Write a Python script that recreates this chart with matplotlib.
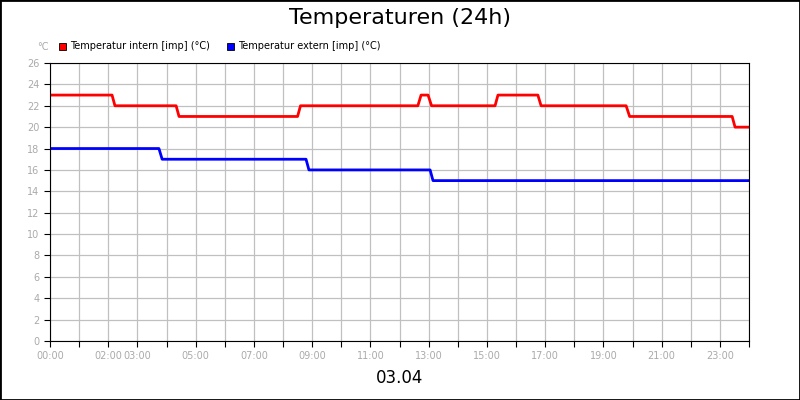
import matplotlib
matplotlib.use("Agg")
import matplotlib.pyplot as plt
from matplotlib.patches import Rectangle

# hours, values
red_x = [0, 2.13, 2.23, 4.33, 4.43, 8.5, 8.6, 12.63, 12.74, 12.98, 13.1, 15.28, 15.38, 16.75, 16.86, 19.78, 19.9, 23.42, 23.52, 24]
red_y = [23, 23, 22, 22, 21, 21, 22, 22, 23, 23, 22, 22, 23, 23, 22, 22, 21, 21, 20, 20]
blue_x = [0, 3.74, 3.85, 8.79, 8.89, 13.05, 13.15, 24]
blue_y = [18, 18, 17, 17, 16, 16, 15, 15]
tick_hours = [0, 2, 3, 5, 7, 9, 11, 13, 15, 17, 19, 21, 23]

fig = plt.figure(figsize=(8, 4), dpi=100)
fig.patches.append(Rectangle((0, 0), 1, 1, transform=fig.transFigure, fill=False,
                             edgecolor="black", linewidth=2))
ax = fig.add_axes([0.0625, 0.1475, 0.8738, 0.695])
ax.plot(red_x, red_y, color="#ff0000", lw=2)
ax.plot(blue_x, blue_y, color="#0000ff", lw=2)
ax.set_xlim(0, 24)
ax.set_ylim(0, 26)
ax.set_yticks(range(0, 27, 2))
ax.set_xticks(range(0, 25))
ax.set_xticklabels([("%02d:00" % h) if h in tick_hours else "" for h in range(25)])
ax.grid(True, color="#c0c0c0", lw=0.9)
ax.set_axisbelow(True)
ax.tick_params(labelsize=7, length=4, direction="out", colors="black", labelcolor="#aaaaaa")
for s in ax.spines.values():
    s.set_color("black")

fig.text(0.5, 0.955, "Temperaturen (24h)", ha="center", va="center", fontsize=16)
fig.text(0.5, 0.055, "03.04", ha="center", va="center", fontsize=12)
fig.text(0.047, 0.882, "°C", ha="left", va="center", fontsize=7, color="#aaaaaa")
for xx, col, lab in [(0.074, "#ff0000", "Temperatur intern [imp] (°C)"),
                     (0.284, "#0000ff", "Temperatur extern [imp] (°C)")]:
    fig.patches.append(Rectangle((xx, 0.875), 0.009, 0.018, transform=fig.transFigure,
                                 facecolor=col, edgecolor="black", lw=0.6))
    fig.text(xx + 0.013, 0.886, lab, ha="left", va="center", fontsize=7)
fig.savefig("out.png", dpi=100)
